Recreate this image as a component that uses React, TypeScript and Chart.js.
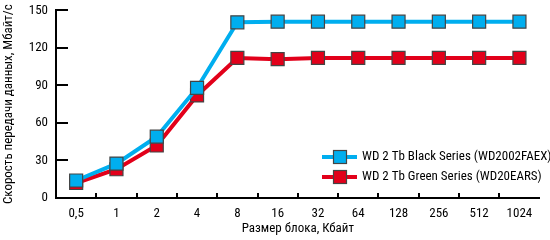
import React, { useEffect, useRef } from "react";
import { Chart, registerables } from "chart.js";

Chart.register(...registerables);

const categories = ["0,5", "1", "2", "4", "8", "16", "32", "64", "128", "256", "512", "1024"];
const blackSeries = [14, 27.5, 49, 88, 140.5, 141, 141, 141, 141, 141, 141, 141];
const greenSeries = [12, 23, 42, 82, 112, 111, 112, 112, 112, 112, 112, 112];
const seriesNames = ["WD 2 Tb Black Series (WD2002FAEX)", "WD 2 Tb Green Series (WD20EARS)"];
const seriesColors = ["#00aeef", "#e2001a"];
const yTitle = "Скорость передачи данных, Мбайт/с";
const xTitle = "Размер блока, Кбайт";

const FONT = "'Roboto Condensed', 'DejaVu Sans', sans-serif";

const inwardTicks = {
  id: "inwardTicks",
  afterDatasetsDraw(chart: any) {
    const ctx = chart.ctx;
    const xs = chart.scales.x;
    const ys = chart.scales.y;
    const area = chart.chartArea;
    ctx.save();
    ctx.strokeStyle = "#000";
    ctx.lineWidth = 2;
    ctx.beginPath();
    ys.ticks.forEach((t: any) => {
      if (t.value === 0) return;
      const y = Math.round(ys.getPixelForValue(t.value));
      ctx.moveTo(area.left, y);
      ctx.lineTo(area.left + 12, y);
    });
    for (let i = 0; i < categories.length - 1; i++) {
      const x = Math.round((xs.getPixelForTick(i) + xs.getPixelForTick(i + 1)) / 2);
      ctx.moveTo(x, area.bottom);
      ctx.lineTo(x, area.bottom - 5);
    }
    ctx.stroke();
    ctx.restore();
  },
};

const legendPlugin = {
  id: "customLegend",
  afterDraw(chart: any) {
    const ctx = chart.ctx;
    const items = chart.data.datasets;
    const x0 = 322;
    const y0 = 157;
    ctx.save();
    items.forEach((ds: any, i: number) => {
      const y = y0 + i * 20;
      ctx.strokeStyle = ds.borderColor;
      ctx.lineWidth = 4;
      ctx.beginPath();
      ctx.moveTo(x0, y);
      ctx.lineTo(x0 + 35, y);
      ctx.stroke();
      ctx.fillStyle = ds.pointBackgroundColor;
      ctx.strokeStyle = "#444";
      ctx.lineWidth = 1.2;
      ctx.fillRect(x0 + 11.5, y - 6.5, 13, 13);
      ctx.strokeRect(x0 + 11.5, y - 6.5, 13, 13);
      ctx.fillStyle = "#000";
      ctx.font = `13px ${FONT}`;
      ctx.textBaseline = "middle";
      ctx.textAlign = "left";
      ctx.fillText(ds.label, x0 + 40, y);
    });
    ctx.restore();
  },
};

export default function App() {
  const ref = useRef<HTMLCanvasElement | null>(null);
  useEffect(() => {
    if (!ref.current) return;
    const mk = (i: number, data: number[]) => ({
      label: seriesNames[i],
      data,
      borderColor: seriesColors[i],
      backgroundColor: seriesColors[i],
      pointBackgroundColor: seriesColors[i],
      pointBorderColor: "#444",
      pointBorderWidth: 1.2,
      pointStyle: "rect",
      pointRadius: 9.2,
      borderWidth: 4,
      tension: 0,
    });
    const chart = new Chart(ref.current, {
      type: "line",
      data: {
        labels: categories,
        datasets: [mk(0, blackSeries), mk(1, greenSeries)],
      },
      options: {
        animation: false,
        responsive: false,
        maintainAspectRatio: false,
        layout: { padding: { top: 6, right: 2, left: 0, bottom: 0 } },
        plugins: { legend: { display: false }, tooltip: { enabled: false } },
        scales: {
          x: {
            offset: true,
            grid: { display: true, drawOnChartArea: false, drawTicks: false, tickLength: 0 },
            border: { display: true, color: "#000", width: 2 },
            ticks: { color: "#000", font: { family: FONT, size: 13 }, padding: 8, maxRotation: 0, autoSkip: false },
            title: { display: true, text: xTitle, color: "#000", font: { family: FONT, size: 13 }, padding: { top: 2, bottom: 3 } },
            afterFit(scale: any) {
              scale.height = 42;
              scale.paddingLeft = 0;
              scale.paddingRight = 0;
            },
          },
          y: {
            min: 0,
            max: 150,
            ticks: { stepSize: 30, color: "#000", font: { family: FONT, size: 13, lineHeight: 0.5 }, padding: 8 },
            grid: { display: true, drawOnChartArea: false, drawTicks: false, tickLength: 0 },
            border: { display: true, color: "#000", width: 2 },
            title: { display: true, text: yTitle, color: "#000", font: { family: FONT, size: 13 }, padding: { top: 1, bottom: 4 } },
            afterFit(scale: any) {
              scale.width = 56;
              scale.paddingTop = 0;
              scale.paddingBottom = 0;
            },
          },
        },
      },
      plugins: [inwardTicks, legendPlugin],
    } as any);
    return () => chart.destroy();
  }, []);
  return (
    <div style={{ position: "fixed", left: 0, top: 0, width: 550, height: 240, background: "#fff" }}>
      <canvas ref={ref} width={550} height={240} style={{ display: "block" }} />
    </div>
  );
}
